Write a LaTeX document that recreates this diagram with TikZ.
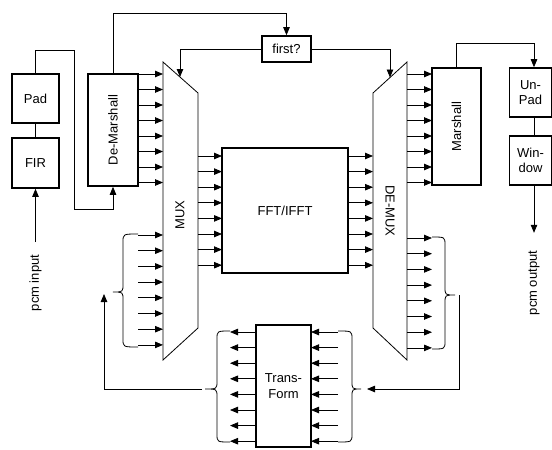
\documentclass[tikz,border=0pt]{standalone}
\usepackage{fontspec}
\setmainfont{Liberation Sans}
\usetikzlibrary{arrows.meta}
\newcommand{\mybrace}[6]{\draw[wire] (#1,#4) .. controls (#2,#4) .. (#2,#4+8) -- (#2,#6-8) .. controls (#2,#6) .. (#3,#6) .. controls (#2,#6) .. (#2,#6+8) -- (#2,#5-8) .. controls (#2,#5) .. (#1,#5);}
\begin{document}
\begin{tikzpicture}[x=1pt,y=-1pt,
  box/.style={draw, line width=1.6pt, inner sep=0pt, font=\fontsize{13}{15.5}\selectfont, align=center},
  wire/.style={line width=0.8pt},
  conn/.style={line width=0.8pt, -{Triangle[length=8pt,width=6.5pt]}},
  lbl/.style={font=\fontsize{13}{15.5}\selectfont, inner sep=0pt}]
\useasboundingbox (0,0) rectangle (552,450);

% boxes
\node[box, minimum width=47pt, minimum height=49pt] (pad) at (35.5,98.5) {Pad};
\node[box, minimum width=47pt, minimum height=50pt] (fir) at (35.5,163) {FIR};
\node[box, minimum width=50pt, minimum height=112pt] (dm) at (113,130) {};
\node[lbl, rotate=90] at (dm.center) {De-Marshall};
\node[box, minimum width=49pt, minimum height=26pt] (first) at (286.5,49) {first?};
\node[box, minimum width=126pt, minimum height=125pt] (fft) at (285,210.5) {FFT/IFFT};
\node[box, minimum width=49pt, minimum height=117pt] (marshall) at (456.5,126.5) {};
\node[lbl, rotate=90] at (marshall.center) {Marshall};
\node[box, minimum width=42pt, minimum height=49pt] (unpad) at (530.5,92.5) {Un-\\Pad};
\node[box, minimum width=42pt, minimum height=49pt] (window) at (530.5,160.5) {Win-\\dow};
\node[box, minimum width=55pt, minimum height=122pt] (transform) at (283.5,386) {Trans-\\Form};

% mux / demux
\draw[wire] (163,62) coordinate (mux) -- (198,93) -- (198,328) -- (163,360) -- cycle;
\node[lbl, rotate=90] (muxl) at (180,215) {MUX};
\draw[wire] (407,62) coordinate (demux) -- (373,93) -- (373,328) -- (407,360) -- cycle;
\node[lbl, rotate=-90] (demuxl) at (390,211) {DE-MUX};

% texts
\node[lbl, rotate=90] (pin) at (35.5,283) {pcm input};
\node[lbl, rotate=90] (pout) at (534,283) {pcm output};

% connections
\draw[wire] (fir.north) -- (pad.south);
\coordinate (pinl) at (35.5,242);
\draw[conn] (pinl) -- (fir.south);
\draw[conn] (pad.north) -- ++(0,-23) -| (74,209) -| (dm.south);
\draw[conn] (dm.north) -- (113,13) -| (first.north);
\coordinate (muxtop) at (180,77);
\coordinate (demuxtop) at (390,77.5);
\draw[conn] (first.west) -| (muxtop);
\draw[conn] (first.east) -| (demuxtop);
\draw[conn] (marshall.north) -- ++(0,-24) -| ([xshift=3.5pt]unpad.north);
\draw[wire] ([xshift=3.5pt]unpad.south) -- ([xshift=3.5pt]window.north);
\draw[conn] ([xshift=3.5pt]window.south) -- ++(0,47);

% arrow banks
\foreach \i in {0,...,7}{
  \pgfmathsetmacro\ya{74+15.5*\i}
  \draw[conn] (138,\ya) -- (163,\ya);
  \draw[conn] (407,\ya) -- (432,\ya);
  \pgfmathsetmacro\yb{156+15.6*\i}
  \draw[conn] (198,\yb) -- (222,\yb);
  \draw[conn] (348,\yb) -- (373,\yb);
  \pgfmathsetmacro\yc{235+15.7*\i}
  \draw[conn] (138,\yc) -- (163,\yc);
  \pgfmathsetmacro\yd{238+15.7*\i}
  \draw[conn] (407,\yd) -- (432,\yd);
  \pgfmathsetmacro\ye{332+15.6*\i}
  \draw[conn] (256,\ye) -- (230,\ye);
  \draw[conn] (338,\ye) -- (311,\ye);
}

% braces
\mybrace{138}{123}{113}{234}{347}{292}
\mybrace{432}{445}{455}{237}{349}{295}
\mybrace{230}{217}{205}{331}{442}{389}
\mybrace{338}{352}{361}{331}{442}{389}

% feedback
\coordinate (fbl) at (202,389);
\coordinate (fblt) at (104,294);
\draw[conn] (fbl) -| (fblt);
\coordinate (fbr) at (459,295);
\coordinate (fbrt) at (367,389);
\draw[conn] (fbr) |- (fbrt);
\end{tikzpicture}
\end{document}
